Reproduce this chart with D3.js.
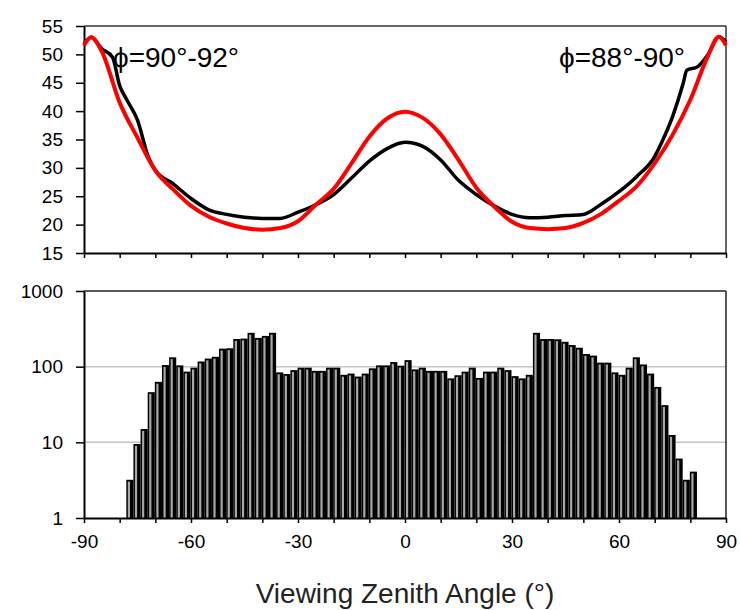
<!DOCTYPE html>
<html>
<head>
<meta charset="utf-8">
<script src="https://cdn.jsdelivr.net/npm/d3@7"></script>
<style>
  body { margin: 0; background: #fff; }
  svg { display: block; }
</style>
</head>
<body>
<svg id="chart" width="740" height="610"></svg>
<script>
// --- top panel: reflectance curves ---
const blackAngles = [-90, -88, -85, -82, -80, -78, -75, -72, -70, -65, -60, -55, -50, -45, -40, -35, -30, -25, -20, -15, -10, -5, 0, 5, 10, 15, 20, 25, 30, 35, 40, 45, 50, 55, 60, 65, 70, 72, 75, 78, 79, 82, 85, 88, 90];
const blackValues = [51.8, 53.0, 51.0, 49.5, 44.5, 42.0, 38.4, 32.0, 29.6, 27.2, 24.6, 22.6, 21.8, 21.3, 21.1, 21.1, 22.2, 23.5, 25.3, 28.2, 31.2, 33.4, 34.5, 33.8, 31.4, 27.8, 25.3, 23.3, 21.8, 21.2, 21.3, 21.6, 21.8, 23.6, 25.8, 28.5, 32.0, 34.5, 39.0, 44.9, 47.2, 47.8, 50.0, 53.1, 52.2];

const redAngles = [-90, -88, -85, -80, -75, -70, -65, -60, -55, -50, -45, -40, -35, -30, -25, -20, -15, -10, -5, 0, 5, 10, 15, 20, 25, 30, 35, 40, 45, 50, 55, 60, 65, 70, 75, 80, 85, 88, 90];
const redValues = [51.6, 53.0, 50.5, 41.5, 35.3, 29.5, 26.2, 23.3, 21.4, 20.2, 19.4, 19.1, 19.4, 20.6, 23.5, 26.3, 30.8, 35.5, 38.7, 39.9, 38.8, 35.9, 31.4, 26.5, 23.2, 20.5, 19.4, 19.2, 19.4, 20.3, 21.9, 24.2, 26.8, 30.8, 35.8, 42.0, 49.8, 53.1, 51.6];

const leftLabel = "ϕ=90°-92°";
const rightLabel = "ϕ=88°-90°";

// --- bottom panel: counts per 2° bin, first bin starts at -90 ---
const binLeft = d3.range(-90, 90, 2);
const counts = [0, 0, 0, 0, 0, 0, 3.2, 9.5, 15, 46,
  63, 105, 133, 104, 86, 97, 117, 128, 135, 173,
  175, 232, 235, 280, 240, 255, 280, 84, 80, 90,
  97, 97, 88, 88, 97, 97, 78, 81, 74, 81,
  95, 104, 104, 115, 103, 122, 92, 97, 88, 88,
  88, 70, 77, 86, 97, 71, 86, 86, 97, 90,
  75, 70, 78, 280, 232, 232, 230, 213, 193, 178,
  147, 140, 113, 113, 84, 78, 97, 133, 107, 81,
  54, 31, 12.5, 6.1, 3.2, 4.1, 0, 0, 0, 0];

const xLabelTicks = [-90, -60, -30, 0, 30, 60, 90];
const xMinorTicks = d3.range(-90, 91, 10);
const topTicks = [15, 20, 25, 30, 35, 40, 45, 50, 55];
const logTicks = [1, 10, 100, 1000];
const xTitle = "Viewing Zenith Angle (°)";

const font = '"Liberation Sans", Arial, sans-serif';
const svg = d3.select('#chart');

const x = d3.scaleLinear().domain([-90, 90]).range([84, 726]);
const yTop = d3.scaleLinear().domain([15, 55]).range([253, 26]);
const yBot = d3.scaleLog().domain([1, 1000]).range([518, 291]);

function styleAxis(g) {
  g.attr('font-family', font).attr('font-size', 19);
  g.select('.domain').attr('stroke', '#000').attr('stroke-width', 2);
  g.selectAll('.tick line').attr('stroke', '#000').attr('stroke-width', 1.5);
  g.selectAll('.tick text').attr('fill', '#000');
}

// ---------- top panel ----------
const topPanel = svg.append('g');
topPanel.append('line').attr('x1', x(-90)).attr('x2', x(90)).attr('y1', yTop(55)).attr('y2', yTop(55))
  .attr('stroke', '#333').attr('stroke-width', 1.5);
topPanel.append('line').attr('x1', x(90)).attr('x2', x(90)).attr('y1', yTop(55)).attr('y2', yTop(15))
  .attr('stroke', '#333').attr('stroke-width', 1.5);

topPanel.append('g').attr('transform', `translate(0,${yTop(15)})`)
  .call(d3.axisBottom(x).tickValues(xMinorTicks).tickSize(5).tickSizeOuter(0).tickFormat(''))
  .call(styleAxis);
topPanel.append('g').attr('transform', `translate(${x(-90)},0)`)
  .call(d3.axisLeft(yTop).tickValues(topTicks).tickSize(8).tickSizeOuter(0).tickPadding(13))
  .call(styleAxis);

const line = d3.line().curve(d3.curveMonotoneX);
topPanel.append('path')
  .attr('d', line(blackAngles.map((a, i) => [x(a), yTop(blackValues[i])])))
  .attr('fill', 'none').attr('stroke', '#000').attr('stroke-width', 3.5);
topPanel.append('path')
  .attr('d', line(redAngles.map((a, i) => [x(a), yTop(redValues[i])])))
  .attr('fill', 'none').attr('stroke', '#ff0000').attr('stroke-width', 4);

topPanel.append('text').attr('x', 113).attr('y', 67)
  .attr('font-family', font).attr('font-size', 28).text(leftLabel);
topPanel.append('text').attr('x', 559).attr('y', 67)
  .attr('font-family', font).attr('font-size', 28).text(rightLabel);

// ---------- bottom panel ----------
const botPanel = svg.append('g');
botPanel.selectAll('.grid').data([10, 100]).join('line').attr('class', 'grid')
  .attr('x1', x(-90)).attr('x2', x(90)).attr('y1', d => yBot(d)).attr('y2', d => yBot(d))
  .attr('stroke', '#c4c4c4').attr('stroke-width', 1.5);

const bins = binLeft.map((a, i) => ({ a, v: counts[i] })).filter(d => d.v > 0);
const bar = botPanel.selectAll('.bar').data(bins).join('g').attr('class', 'bar');
bar.append('rect')
  .attr('x', d => x(d.a) - 0.5)
  .attr('width', d => x(d.a + 2) - x(d.a))
  .attr('y', d => yBot(d.v))
  .attr('height', d => yBot(1) - yBot(d.v))
  .attr('fill', '#000');
bar.append('rect')
  .attr('x', d => x(d.a) + 1)
  .attr('width', 2.2)
  .attr('y', d => yBot(d.v) + 1.8)
  .attr('height', d => Math.max(0, yBot(1) - yBot(d.v) - 1.8))
  .attr('fill', '#a8a8a8');

botPanel.append('line').attr('x1', x(-90)).attr('x2', x(90)).attr('y1', yBot(1000)).attr('y2', yBot(1000))
  .attr('stroke', '#222').attr('stroke-width', 1.5);
botPanel.append('line').attr('x1', x(90)).attr('x2', x(90)).attr('y1', yBot(1000)).attr('y2', yBot(1))
  .attr('stroke', '#222').attr('stroke-width', 1.5);

botPanel.append('g').attr('transform', `translate(0,${yBot(1)})`)
  .call(d3.axisBottom(x).tickValues(xMinorTicks).tickSize(5).tickSizeOuter(0).tickPadding(12)
    .tickFormat(d => xLabelTicks.includes(d) ? d : ''))
  .call(styleAxis);
botPanel.append('g').attr('transform', `translate(${x(-90)},0)`)
  .call(d3.axisLeft(yBot).tickValues(logTicks).tickFormat(d3.format('d')).tickSize(8).tickSizeOuter(0).tickPadding(13))
  .call(styleAxis);

svg.append('text').attr('x', 405).attr('y', 603).attr('text-anchor', 'middle')
  .attr('font-family', font).attr('font-size', 28).attr('fill', '#222').text(xTitle);
</script>
</body>
</html>
